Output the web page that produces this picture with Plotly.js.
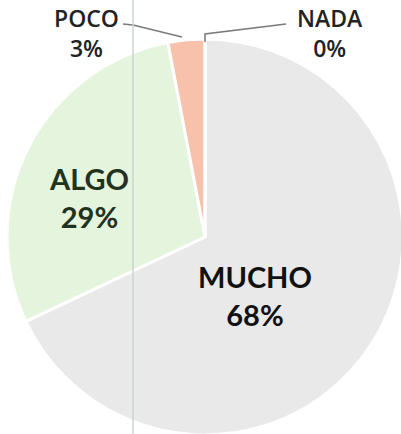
<!DOCTYPE html>
<html>
<head>
<meta charset="utf-8">
<script src="https://cdn.plot.ly/plotly-3.0.1.min.js"></script>
<style>
  html, body { margin: 0; padding: 0; background: #fff; overflow: hidden; }
  #chart { width: 430px; height: 460px; }
</style>
</head>
<body>
<div id="chart"></div>
<script>
// Datos del gráfico
const etiquetas = ['MUCHO', 'ALGO', 'POCO', 'NADA'];
const valores = [68, 29, 3, 0];
const colores = ['#e8e9e8', '#e5f4dc', '#f7c1ab', '#dddddd'];

const W = 430, H = 460;
// convertir píxeles a coordenadas de papel
function px(x) { return x / W; }
function py(y) { return 1 - y / H; }

const total = valores.reduce((a, b) => a + b, 0);
function pct(i) { return Math.round(valores[i] / total * 100) + '%'; }

const data = [{
    type: 'pie',
    labels: etiquetas,
    values: valores,
    sort: false,
    direction: 'clockwise',
    rotation: 0,
    marker: { colors: colores, line: { color: '#ffffff', width: 3 } },
    textinfo: 'none',
    domain: { x: [px(7), px(403)], y: [py(435), py(39)] },
    showlegend: false,
    hoverinfo: 'label+percent'
}];

// posiciones de las etiquetas (píxeles)
const posEtiquetas = [
    { i: 0, x: 255, y: 295, size: 29, color: '#111111', weight: 'bold' },
    { i: 1, x: 89, y: 197, size: 29, color: '#1f3320', weight: 'bold' },
    { i: 2, x: 86, y: 33, size: 23, color: '#222222', weight: 600 },
    { i: 3, x: 330, y: 33, size: 23, color: '#222222', weight: 600 }
];

const annotations = posEtiquetas.map(a => ({
    x: px(a.x), y: py(a.y), xref: 'paper', yref: 'paper',
    text: etiquetas[a.i] + '<br>' + pct(a.i),
    showarrow: false,
    font: { family: a.i < 2 ? 'Lato' : 'Open Sans', size: a.size, color: a.color, weight: a.weight },
    xanchor: 'center', yanchor: 'middle'
}));

function ruta(puntos) {
    return 'M ' + puntos.map(p => px(p[0]) + ',' + py(p[1])).join(' L ');
}

const shapes = [
    { type: 'path', xref: 'paper', yref: 'paper', path: ruta([[123, 24], [133, 25], [182, 37]]),
      line: { color: '#7a7a7a', width: 1.5 } },
    { type: 'path', xref: 'paper', yref: 'paper', path: ruta([[286, 24], [205, 34], [205, 42]]),
      line: { color: '#7a7a7a', width: 1.5 } },
    // línea vertical del escaneo
    { type: 'line', xref: 'paper', yref: 'paper', x0: px(133), x1: px(133), y0: 0, y1: 1,
      line: { color: '#cdd3d3', width: 1.5 } }
];

const layout = {
    width: W, height: H,
    margin: { l: 0, r: 0, t: 0, b: 0 },
    paper_bgcolor: '#ffffff',
    annotations: annotations,
    shapes: shapes
};

Plotly.newPlot('chart', data, layout, { displayModeBar: false, staticPlot: true });
</script>
</body>
</html>
